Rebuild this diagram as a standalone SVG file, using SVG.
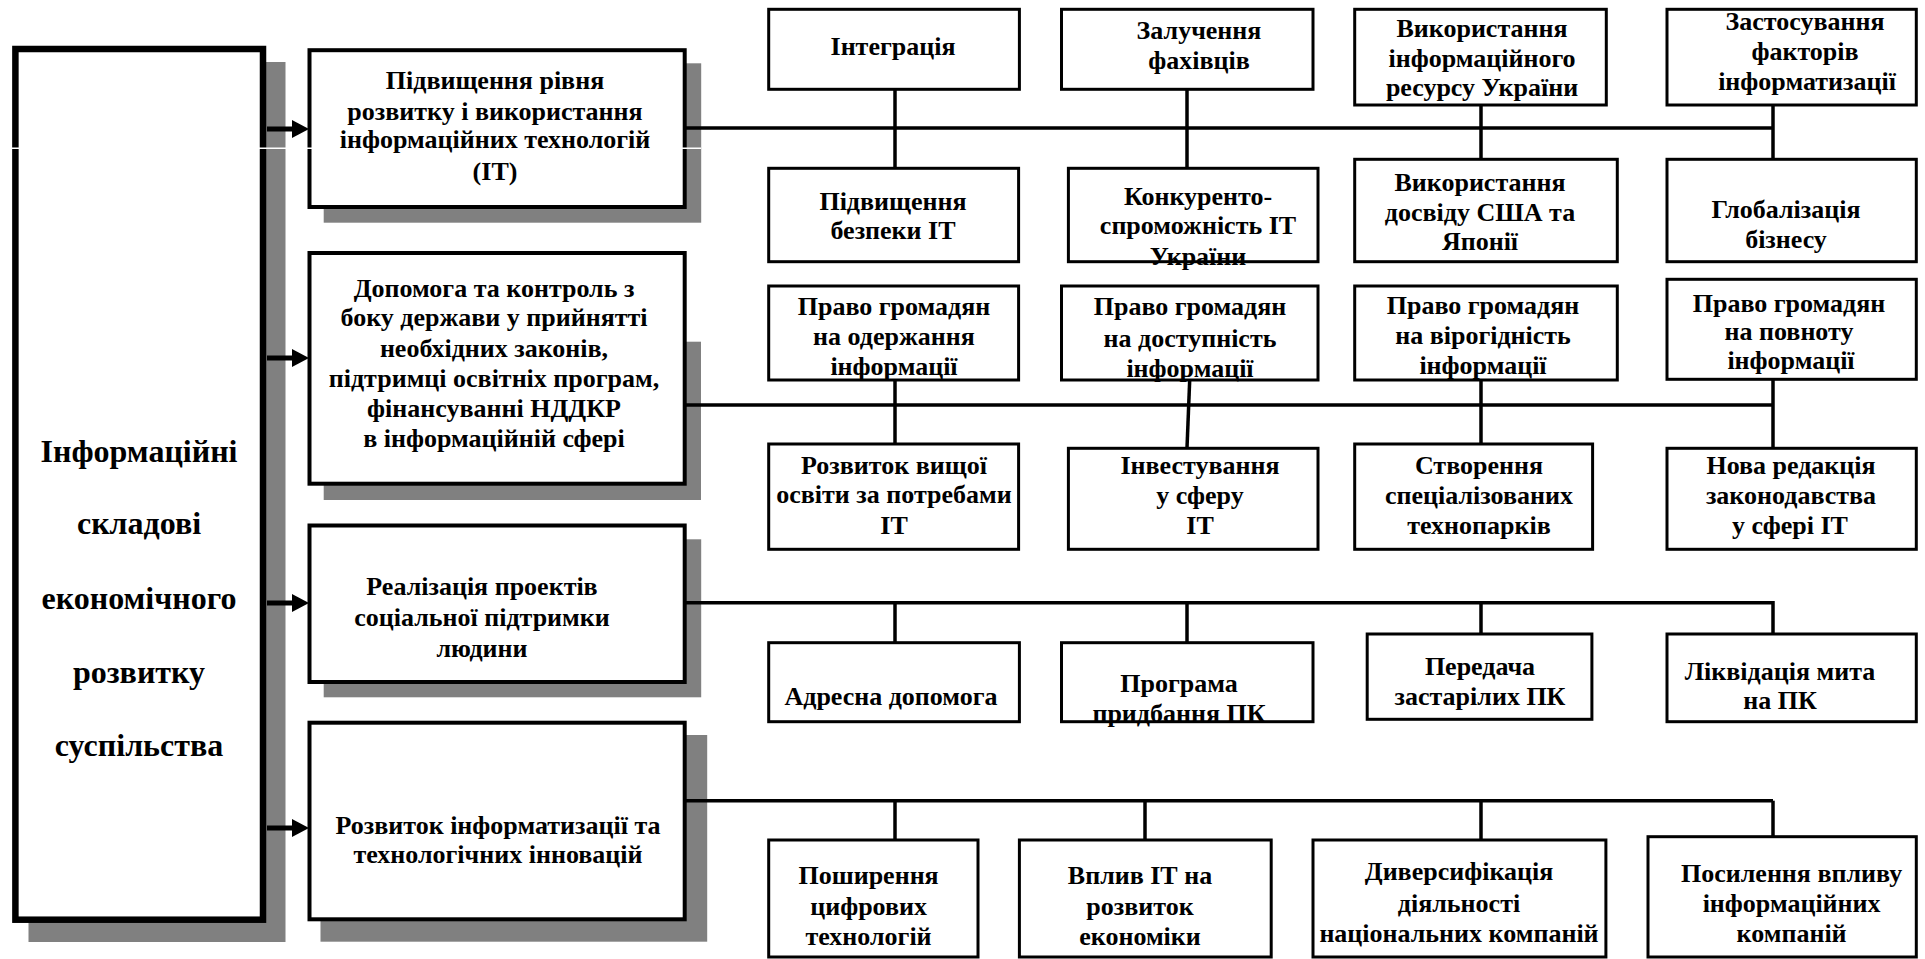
<svg xmlns="http://www.w3.org/2000/svg" width="1925" height="959" viewBox="0 0 1925 959">
<defs>
<style>
text{font-family:"Liberation Serif","Times New Roman",serif;font-weight:bold;fill:#000;text-anchor:middle;dominant-baseline:central}
.t{font-size:26px}
.big{font-size:32px}
.shadow{fill:#808080;stroke:none}
.bx{fill:#fff;stroke:#000;stroke-width:3}
.l1{fill:#fff;stroke:#000;stroke-width:4}
.main{fill:#fff;stroke:#000;stroke-width:6.5}
.con{stroke:#000;stroke-width:3.5;fill:none}
.arr{stroke:#000;stroke-width:5;fill:none}
</style>
<marker id="ah" markerUnits="userSpaceOnUse" markerWidth="18" markerHeight="20" refX="0" refY="9" orient="auto">
<path d="M0,0 L17,9 L0,18 z" fill="#000"/>
</marker>
</defs>
<rect width="1925" height="959" fill="#fff"/>

<g id="main-node">
<rect class="shadow" x="28.5" y="62" width="257" height="880"/>
<rect class="main" x="15.4" y="49" width="247.6" height="870.7"/>
<text class="big" x="139" y="451">Інформаційні</text>
<text class="big" x="139" y="523">складові</text>
<text class="big" x="139" y="598">економічного</text>
<text class="big" x="139" y="672">розвитку</text>
<text class="big" x="139" y="745">суспільства</text>
</g>

<g id="b1">
<rect class="shadow" x="323.7" y="63.3" width="377.5" height="159.4"/>
<rect class="l1" x="309.5" y="50.2" width="375.2" height="156.8"/>
<line x1="0" y1="148.3" x2="701" y2="148.3" stroke="#fff" stroke-width="1.5"/>
<text class="t" x="495" y="80">Підвищення рівня</text>
<text class="t" x="495" y="111">розвитку і використання</text>
<text class="t" x="495" y="139">інформаційних технологій</text>
<text class="t" x="495" y="171">(ІТ)</text>
</g>

<g id="b2">
<rect class="shadow" x="323.7" y="341.7" width="377.3" height="158.3"/>
<rect class="l1" x="309.5" y="253" width="375.2" height="230.7"/>
<text class="t" x="494" y="288">Допомога та контроль з</text>
<text class="t" x="494" y="317">боку держави у прийнятті</text>
<text class="t" x="494" y="348">необхідних законів,</text>
<text class="t" x="494" y="378">підтримці освітніх програм,</text>
<text class="t" x="494" y="408">фінансуванні НДДКР</text>
<text class="t" x="494" y="438">в інформаційній сфері</text>
</g>

<g id="b3">
<rect class="shadow" x="323.7" y="539.3" width="377.5" height="158"/>
<rect class="l1" x="309.5" y="525.5" width="375.2" height="156.5"/>
<text class="t" x="482" y="586">Реалізація проектів</text>
<text class="t" x="482" y="617">соціальної підтримки</text>
<text class="t" x="482" y="648">людини</text>
</g>

<g id="b4">
<rect class="shadow" x="320.5" y="735" width="386.7" height="206.7"/>
<rect class="l1" x="309.5" y="722.7" width="375.2" height="196.6"/>
<text class="t" x="498" y="825">Розвиток інформатизації та</text>
<text class="t" x="498" y="854">технологічних інновацій</text>
</g>

<g id="connectors">
<line class="arr" x1="267" y1="129" x2="292" y2="129" marker-end="url(#ah)"/>
<line class="arr" x1="267" y1="358" x2="292" y2="358" marker-end="url(#ah)"/>
<line class="arr" x1="267" y1="603" x2="292" y2="603" marker-end="url(#ah)"/>
<line class="arr" x1="267" y1="828" x2="292" y2="828" marker-end="url(#ah)"/>

<line class="con" x1="684.7" y1="128" x2="1773" y2="128"/>
<line class="con" x1="895" y1="89" x2="895" y2="168"/>
<line class="con" x1="1187" y1="89" x2="1187" y2="168"/>
<line class="con" x1="1481" y1="105" x2="1481" y2="159"/>
<line class="con" x1="1773" y1="105" x2="1773" y2="159"/>

<line class="con" x1="684.7" y1="405" x2="1773" y2="405"/>
<line class="con" x1="895" y1="380" x2="895" y2="444"/>
<line class="con" x1="1189.7" y1="380" x2="1187" y2="448"/>
<line class="con" x1="1481" y1="380" x2="1481" y2="444"/>
<line class="con" x1="1773" y1="377" x2="1773" y2="448"/>

<polyline class="con" points="684.7,602.7 1773,602.7 1773,634"/>
<line class="con" x1="895" y1="602.7" x2="895" y2="642.7"/>
<line class="con" x1="1187" y1="602.7" x2="1187" y2="642.7"/>
<line class="con" x1="1481" y1="602.7" x2="1481" y2="634"/>

<line class="con" x1="684.7" y1="800.7" x2="1773" y2="800.7"/>
<line class="con" x1="895" y1="800.7" x2="895" y2="840"/>
<line class="con" x1="1145" y1="800.7" x2="1145" y2="840"/>
<line class="con" x1="1481" y1="800.7" x2="1481" y2="840"/>
<line class="con" x1="1773" y1="800.7" x2="1773" y2="837"/>
</g>

<g id="n-integr">
<rect class="bx" x="768.7" y="9.3" width="250.7" height="80"/>
<text class="t" x="893" y="46.7">Інтеграція</text>
</g>
<g id="n-zaluch">
<rect class="bx" x="1061.5" y="9.3" width="251.5" height="80"/>
<text class="t" x="1199" y="30">Залучення</text>
<text class="t" x="1199" y="60">фахівців</text>
</g>
<g id="n-resurs">
<rect class="bx" x="1354.7" y="9.3" width="251.6" height="95.7"/>
<text class="t" x="1482" y="28.3">Використання</text>
<text class="t" x="1482" y="58.3">інформаційного</text>
<text class="t" x="1482" y="87.3">ресурсу України</text>
</g>
<g id="n-zastos">
<rect class="bx" x="1667" y="9.3" width="249.3" height="95.7"/>
<text class="t" x="1805" y="21.7">Застосування</text>
<text class="t" x="1805" y="51.7">факторів</text>
<text class="t" x="1807" y="81.7">інформатизації</text>
</g>

<g id="n-bezpeka">
<rect class="bx" x="768.7" y="168.3" width="249.9" height="93.4"/>
<text class="t" x="893" y="201.7">Підвищення</text>
<text class="t" x="893" y="230">безпеки ІТ</text>
</g>
<g id="n-konkur">
<rect class="bx" x="1068.4" y="168.3" width="249.6" height="93.4"/>
<text class="t" x="1198" y="196.7">Конкуренто-</text>
<text class="t" x="1198" y="225">спроможність ІТ</text>
<text class="t" x="1198" y="256">України</text>
</g>
<g id="n-dosvid">
<rect class="bx" x="1354.7" y="159.3" width="262.6" height="102.4"/>
<text class="t" x="1480" y="182.7">Використання</text>
<text class="t" x="1480" y="212.7">досвіду США та</text>
<text class="t" x="1480" y="241.7">Японії</text>
</g>
<g id="n-global">
<rect class="bx" x="1667" y="159.3" width="249.3" height="102.4"/>
<text class="t" x="1786" y="209.3">Глобалізація</text>
<text class="t" x="1786" y="239.3">бізнесу</text>
</g>

<g id="n-pravo1">
<rect class="bx" x="768.7" y="286" width="249.9" height="94"/>
<text class="t" x="894" y="306.7">Право громадян</text>
<text class="t" x="894" y="336.7">на одержання</text>
<text class="t" x="894" y="366.7">інформації</text>
</g>
<g id="n-pravo2">
<rect class="bx" x="1061.5" y="286" width="256.5" height="94"/>
<text class="t" x="1190" y="306.7">Право громадян</text>
<text class="t" x="1190" y="338.3">на доступність</text>
<text class="t" x="1190" y="368.3">інформації</text>
</g>
<g id="n-pravo3">
<rect class="bx" x="1354.7" y="286" width="262.6" height="94"/>
<text class="t" x="1483" y="305">Право громадян</text>
<text class="t" x="1483" y="335">на вірогідність</text>
<text class="t" x="1483" y="365">інформації</text>
</g>
<g id="n-pravo4">
<rect class="bx" x="1667" y="279.3" width="249.3" height="100"/>
<text class="t" x="1789" y="303.3">Право громадян</text>
<text class="t" x="1789" y="331.7">на повноту</text>
<text class="t" x="1791" y="360">інформації</text>
</g>

<g id="n-osvita">
<rect class="bx" x="768.7" y="444" width="249.9" height="105.3"/>
<text class="t" x="894" y="465">Розвиток вищої</text>
<text class="t" x="894" y="494">освіти за потребами</text>
<text class="t" x="894" y="525">ІТ</text>
</g>
<g id="n-invest">
<rect class="bx" x="1068.4" y="448.3" width="249.6" height="101"/>
<text class="t" x="1200" y="465">Інвестування</text>
<text class="t" x="1200" y="495">у сферу</text>
<text class="t" x="1200" y="525">ІТ</text>
</g>
<g id="n-tekhnopark">
<rect class="bx" x="1354.7" y="444" width="237.9" height="105.3"/>
<text class="t" x="1479" y="465">Створення</text>
<text class="t" x="1479" y="495">спеціалізованих</text>
<text class="t" x="1479" y="525">технопарків</text>
</g>
<g id="n-zakon">
<rect class="bx" x="1667" y="448.3" width="249.3" height="101"/>
<text class="t" x="1791" y="465">Нова редакція</text>
<text class="t" x="1791" y="495">законодавства</text>
<text class="t" x="1790" y="525">у сфері ІТ</text>
</g>

<g id="n-adresna">
<rect class="bx" x="768.7" y="642.7" width="250.7" height="79"/>
<text class="t" x="891" y="696.7">Адресна допомога</text>
</g>
<g id="n-programa">
<rect class="bx" x="1061.5" y="642.7" width="251.5" height="79"/>
<text class="t" x="1179" y="683.3">Програма</text>
<text class="t" x="1179" y="713.3">придбання ПК</text>
</g>
<g id="n-peredacha">
<rect class="bx" x="1367.2" y="634" width="224.7" height="85.3"/>
<text class="t" x="1480" y="666.7">Передача</text>
<text class="t" x="1480" y="696.7">застарілих ПК</text>
</g>
<g id="n-myto">
<rect class="bx" x="1667" y="634" width="249.3" height="87.7"/>
<text class="t" x="1780" y="671.7">Ліквідація мита</text>
<text class="t" x="1780" y="700">на ПК</text>
</g>

<g id="n-tsyfrovi">
<rect class="bx" x="768.7" y="840" width="209.3" height="117"/>
<text class="t" x="868.6" y="875">Поширення</text>
<text class="t" x="868.6" y="906.7">цифрових</text>
<text class="t" x="868.6" y="936.7">технологій</text>
</g>
<g id="n-vplyv">
<rect class="bx" x="1019.4" y="840" width="251.8" height="117"/>
<text class="t" x="1140" y="875">Вплив ІТ на</text>
<text class="t" x="1140" y="906.7">розвиток</text>
<text class="t" x="1140" y="936.7">економіки</text>
</g>
<g id="n-dyversyf">
<rect class="bx" x="1313" y="840" width="292.9" height="117"/>
<text class="t" x="1459" y="871.7">Диверсифікація</text>
<text class="t" x="1459" y="903.3">діяльності</text>
<text class="t" x="1459" y="933.3">національних компаній</text>
</g>
<g id="n-posylennia">
<rect class="bx" x="1648" y="836.7" width="268.3" height="120.3"/>
<text class="t" x="1791.6" y="873.3">Посилення впливу</text>
<text class="t" x="1791.6" y="903.3">інформаційних</text>
<text class="t" x="1791.6" y="933.3">компаній</text>
</g>
</svg>
